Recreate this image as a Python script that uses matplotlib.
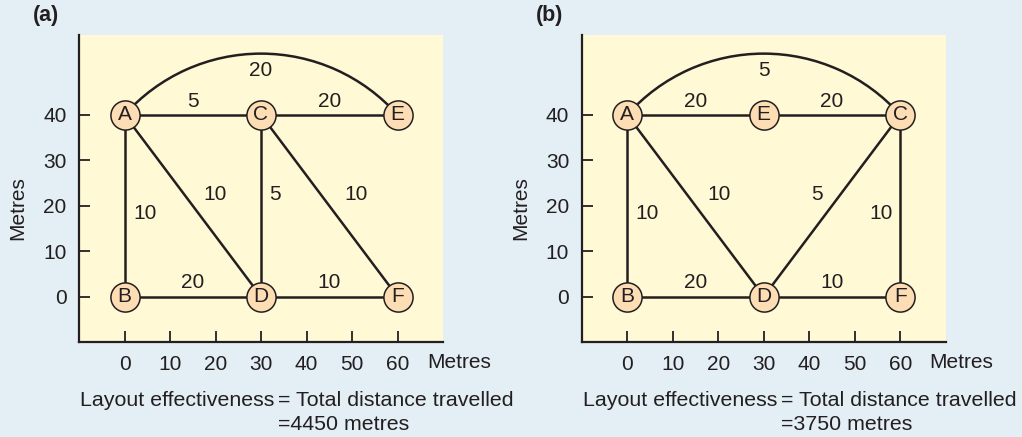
import numpy as np
import matplotlib
matplotlib.use("Agg")
import matplotlib.pyplot as plt
from matplotlib.patches import Arc

plt.rcParams['font.family'] = ['Liberation Sans', 'DejaVu Sans']

# ---- data ----
x_ticks = [0, 10, 20, 30, 40, 50, 60]
y_ticks = [0, 10, 20, 30, 40]
axis_label = "Metres"

# panel (a)
nodes_a = {"A": (0, 40), "C": (30, 40), "E": (60, 40),
           "B": (0, 0), "D": (30, 0), "F": (60, 0)}
edges_a = [("A", "C"), ("C", "E"), ("A", "B"), ("A", "D"),
           ("C", "D"), ("C", "F"), ("B", "D"), ("D", "F")]
arc_a = ("A", "E")
edge_labels_a = ["5", "20", "10", "10", "5", "10", "20", "10"]
arc_label_a = "20"
label_pos_a = [(15, 43), (45, 43), (4.5, 18.4), (20, 22.4),
               (33, 22.4), (51, 22.4), (15, 3.1), (45, 3.1)]
arc_label_pos_a = (30, 49.7)
total_a = "=4450 metres"

# panel (b)
nodes_b = {"A": (0, 40), "E": (30, 40), "C": (60, 40),
           "B": (0, 0), "D": (30, 0), "F": (60, 0)}
edges_b = [("A", "E"), ("E", "C"), ("A", "B"), ("A", "D"),
           ("D", "C"), ("C", "F"), ("B", "D"), ("D", "F")]
arc_b = ("A", "C")
edge_labels_b = ["20", "20", "10", "10", "5", "10", "20", "10"]
arc_label_b = "5"
label_pos_b = [(15, 43), (45, 43), (4.3, 18.4), (20.2, 22.4),
               (41.6, 22.4), (55.7, 18.4), (15, 3.1), (45, 3.1)]
arc_label_pos_b = (30, 49.7)
total_b = "=3750 metres"

eff_label = "Layout effectiveness"
eff_rhs = "= Total distance travelled"

arc_peak = 53.5

# ---- style ----
FIG_BG = "#E3EEF5"
AX_BG = "#FFF9D6"
NODE_FC = "#FDDDB4"
INK = "#231F20"
FS = 15
FS_EFF = 15.4

fig = plt.figure(figsize=(10.22, 4.37), dpi=100)
fig.patch.set_facecolor(FIG_BG)

W, H = 1022.0, 437.0


def draw_panel(left_px, nodes, edges, elabels, lpos, arc, alabel, apos,
               panel, total):
    ax = fig.add_axes([left_px / W, 1 - 342 / H, 364 / W, 307 / H])
    ax.set_facecolor(AX_BG)
    ax.set_xlim(-10, 70)
    ax.set_ylim(-10, 57.6)
    for s in ["top", "right"]:
        ax.spines[s].set_visible(False)
    for s in ["left", "bottom"]:
        ax.spines[s].set_color(INK)
        ax.spines[s].set_linewidth(1.6)
    ax.set_xticks(x_ticks)
    ax.set_yticks(y_ticks)
    ax.tick_params(direction="in", length=8, width=1.3, color=INK,
                   labelsize=FS, labelcolor=INK)
    ax.tick_params(axis="x", pad=9)
    ax.tick_params(axis="y", pad=9)

    # straight edges
    for (u, v) in edges:
        x0, y0 = nodes[u]
        x1, y1 = nodes[v]
        ax.plot([x0, x1], [y0, y1], color=INK, lw=1.8, zorder=2,
                solid_capstyle="butt")
    # arc edge (circular)
    (xa, ya), (xb, yb) = nodes[arc[0]], nodes[arc[1]]
    half = (xb - xa) / 2.0
    sag = arc_peak - ya
    R = (half ** 2 + sag ** 2) / (2 * sag)
    cx, cy = (xa + xb) / 2.0, arc_peak - R
    ang = np.degrees(np.arctan2(ya - cy, xa - cx))
    ax.add_patch(Arc((cx, cy), 2 * R, 2 * R, theta1=180 - ang, theta2=ang,
                     color=INK, lw=1.8, zorder=2))

    for lab, (x, y) in zip(elabels, lpos):
        ax.text(x, y, lab, ha="center", va="center", fontsize=FS, color=INK)
    ax.text(apos[0], apos[1], alabel, ha="center", va="center",
            fontsize=FS, color=INK)

    for name, (x, y) in nodes.items():
        ax.plot(x, y, "o", ms=21, mfc=NODE_FC, mec=INK, mew=1.1,
                zorder=3, clip_on=False)
        ax.text(x, y, name, ha="center", va="center", fontsize=FS,
                color=INK, zorder=4)

    # axis labels
    fig.text((left_px + 348) / W, 1 - 363 / H, axis_label, fontsize=FS,
             color=INK, ha="left", va="center")
    fig.text((left_px - 61) / W, 1 - 208 / H, axis_label, fontsize=FS,
             color=INK, ha="center", va="center", rotation=90)
    # panel label
    fig.text((left_px - 46) / W, 1 - 16 / H, panel, fontsize=15.5,
             fontweight="bold", color=INK, ha="left", va="center")
    # effectiveness text
    fig.text((left_px + 1) / W, 1 - 400 / H, eff_label, fontsize=FS_EFF,
             color=INK, ha="left", va="center")
    eq_x = (left_px + 199) / W
    fig.text(eq_x, 1 - 400 / H, eff_rhs, fontsize=FS_EFF,
             color=INK, ha="left", va="center")
    fig.text(eq_x, 1 - 425 / H, total, fontsize=FS_EFF,
             color=INK, ha="left", va="center")
    return ax


draw_panel(79, nodes_a, edges_a, edge_labels_a, label_pos_a, arc_a,
           arc_label_a, arc_label_pos_a, "(a)", total_a)
draw_panel(581.7, nodes_b, edges_b, edge_labels_b, label_pos_b, arc_b,
           arc_label_b, arc_label_pos_b, "(b)", total_b)

fig.savefig("out.png", dpi=100, facecolor=FIG_BG)
